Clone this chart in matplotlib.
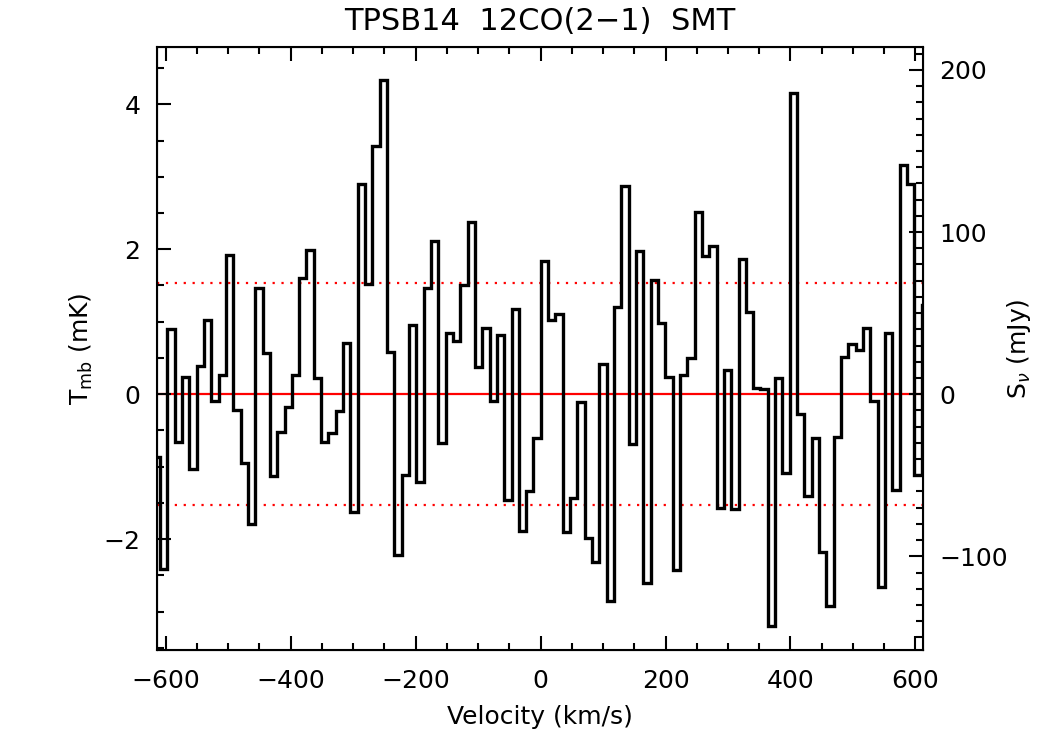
import numpy as np
import matplotlib
matplotlib.use("Agg")
import matplotlib.pyplot as plt
from matplotlib.ticker import MultipleLocator

# ---------- spectrum data ----------
v_start = -620.8      # left edge of first channel (km/s)
dv = 11.72            # channel width (km/s)
tmb = [
    -0.86, -2.41, 0.90, -0.66, 0.24, -1.03, 0.39, 1.03, -0.09, 0.26,
    1.92, -0.22, -0.95, -1.79, 1.47, 0.57, -1.13, -0.52, -0.17, 0.26,
    1.60, 1.99, 0.22, -0.66, -0.54, -0.23, 0.70,
    -1.63, 2.90, 1.52, 3.43, 4.34, 0.58, -2.22, -1.12, 0.96, -1.21,
    1.47, 2.11, -0.67, 0.85, 0.74, 1.50, 2.38, 0.38, 0.91, -0.09,
    0.81, -1.46, 1.18, -1.89, -1.34, -0.61,
    1.84, 1.03, 1.11, -1.90, -1.43, -0.11, -1.99, -2.31, 0.42, -2.85,
    1.20, 2.87, -0.69, 1.98, -2.60, 1.57, 0.98, 0.24, -2.43, 0.27,
    0.50, 2.52, 1.91, 2.05, -1.57, 0.33,
    -1.58, 1.87, 1.13, 0.08, 0.07, -3.20, 0.22, -1.09, 4.15, -0.28,
    -1.40, -0.61, -2.18, -2.92, -0.59, 0.51, 0.69, 0.61, 0.91, -0.10,
    -2.66, 0.84, -1.32, 3.16, 2.90, -1.11, 1.23,
]
rms = 1.53            # mK, dotted lines
mjy_per_mk = 44.7     # conversion for right axis
xlim = (-614, 612)
ylim = (-3.53, 4.79)

edges = v_start + dv * np.arange(len(tmb) + 1)

plt.rcParams.update({
    "font.family": "DejaVu Sans",
    "font.size": 18,
    "xtick.direction": "in",
    "ytick.direction": "in",
})

fig = plt.figure(figsize=(10.5, 7.5), dpi=100)
ax = fig.add_axes([0.1495, 0.1333, 0.7295, 0.804])

ax.axhline(0, color="red", lw=1.6, zorder=1)
ax.axhline(rms, color="red", lw=1.6, ls=(0, (1, 3)), zorder=1)
ax.axhline(-rms, color="red", lw=1.6, ls=(0, (1, 3)), zorder=1)
ax.stairs(tmb, edges, color="black", lw=2.4, zorder=2)

ax.set_xlim(*xlim)
ax.set_ylim(*ylim)
ax.xaxis.set_major_locator(MultipleLocator(200))
ax.xaxis.set_minor_locator(MultipleLocator(50))
ax.yaxis.set_major_locator(MultipleLocator(2))
ax.yaxis.set_minor_locator(MultipleLocator(0.5))
ax.tick_params(axis="x", which="both", top=True, bottom=True)
ax.tick_params(axis="y", which="both", left=True, right=False)
ax.tick_params(axis="x", which="major", length=10, width=1.5, pad=14, labelsize=18)
ax.tick_params(axis="y", which="major", length=10, width=1.5, pad=12, labelsize=18)
ax.tick_params(which="minor", length=5, width=1.5)
for s in ax.spines.values():
    s.set_linewidth(1.5)

ax.set_xlabel("Velocity (km/s)", fontsize=18, labelpad=8)
ax.set_ylabel(r"T$_{\rm mb}$ (mK)", fontsize=18, labelpad=6)
ax.set_title("TPSB14  12CO(2\u22121)  SMT", fontsize=22, pad=12)

ax2 = ax.twinx()
ax2.set_ylim(ylim[0] * mjy_per_mk, ylim[1] * mjy_per_mk)
ax2.yaxis.set_major_locator(MultipleLocator(100))
ax2.yaxis.set_minor_locator(MultipleLocator(10))
ax2.tick_params(which="major", length=10, width=1.5, pad=12, labelsize=18)
ax2.tick_params(which="minor", length=5, width=1.5)
ax2.set_ylabel(r"S$_\nu$ (mJy)", fontsize=18, labelpad=-2)

fig.savefig("out.png", dpi=100)
